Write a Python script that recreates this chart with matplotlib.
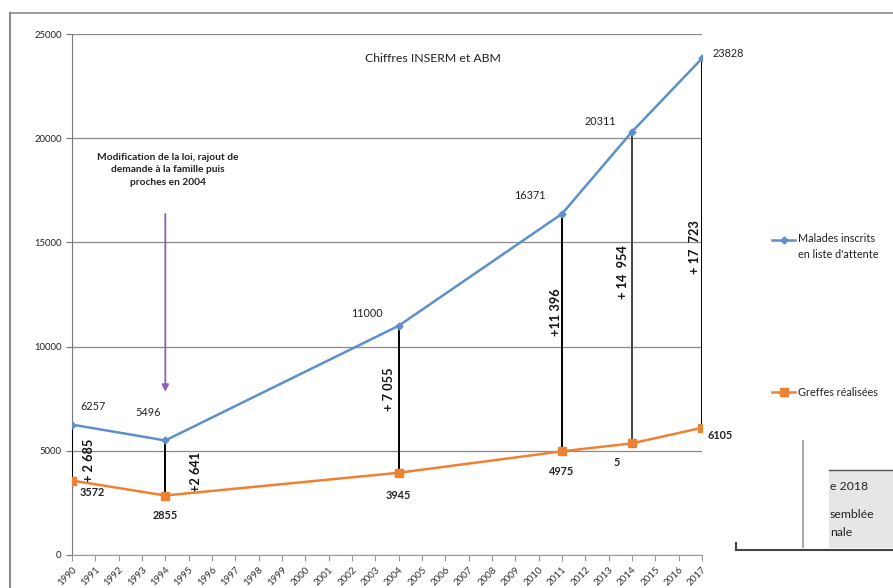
import matplotlib
matplotlib.use("Agg")
import matplotlib.pyplot as plt
from matplotlib.lines import Line2D
from matplotlib.patches import Rectangle

plt.rcParams['font.family'] = ['Lato', 'DejaVu Sans']

# data
years = list(range(1990, 2018))
point_years = [1990, 1994, 2004, 2011, 2014, 2017]
inscrits = [6257, 5496, 11000, 16371, 20311, 23828]
greffes = [3572, 2855, 3945, 4975, 5357, 6105]
inscrits_labels = ["6257", "5496", "11000", "16371", "20311", "23828"]
greffes_labels = ["3572", "2855", "3945", "4975", "5", "6105"]
ecart_labels = ["+ 2 685", "+2 641", "+ 7 055", "+11 396", "+ 14  954", "+ 17  723"]

BLUE = "#5d8fcb"
ORANGE = "#ee8132"

fig = plt.figure(figsize=(8.93, 5.88), dpi=100)
ax = fig.add_axes([72/893, 1-555/588, 630/893, 521/588])

ax.plot(point_years, inscrits, color=BLUE, lw=1.8, marker="D", ms=3.5, zorder=4)
ax.plot(point_years, greffes, color=ORANGE, lw=1.8, marker="s", ms=6, zorder=4)

# vertical gaps between the two series
for yr, lo, hi in zip(point_years, greffes, inscrits):
    col = "#444444" if yr == 2014 else "black"
    ax.vlines(yr, lo, hi, color=col, lw=1.4, zorder=3)

ax.set_xlim(1990, 2017)
ax.set_ylim(0, 25000)
ax.set_yticks(range(0, 25001, 5000))
ax.set_xticks(years)
ax.set_xticklabels([str(y) for y in years], rotation=45, ha="right", rotation_mode="anchor",
                   fontsize=7, color="#333333")
ax.tick_params(axis="y", labelsize=6.8, labelcolor="#222222", length=4, color="#777777")
ax.tick_params(axis="x", length=4, color="#999999")
ax.grid(axis="y", color="#8a8a8a", lw=0.9)
ax.set_axisbelow(True)
for s in ["top", "right"]:
    ax.spines[s].set_visible(False)
ax.spines["left"].set_color("#777777")
ax.spines["bottom"].set_color("#999999")

# data labels
blue_off = [(21, 18), (-17, 28), (-32, 12), (-32, 18), (-32, 10), (26, 5)]
for yr, v, lab, off in zip(point_years, inscrits, inscrits_labels, blue_off):
    ax.annotate(lab, (yr, v), xytext=off, textcoords="offset pixels", ha="center",
                va="center", fontsize=7.8, color="#222222")

orange_off = [(20, -12), (0, -20), (0, -23), (0, -20), (-15, -19), (18, -8)]
for yr, v, lab, off in zip(point_years, greffes, greffes_labels, orange_off):
    ax.annotate(lab, (yr, v), xytext=off, textcoords="offset pixels", ha="center",
                va="center", fontsize=7.8, color="#222222", fontweight="bold")

ecart_off = [(17, 20), (31, 24), (-10, 84), (-6, 139), (-9, 171), (-7, 181)]
for yr, v, lab, off in zip(point_years, greffes, ecart_labels, ecart_off):
    ax.annotate(lab, (yr, v), xytext=off, textcoords="offset pixels", ha="center",
                va="center", fontsize=9.2, rotation=90, fontweight="bold", color="#111111")

# title and law change note
fig.text(433/893, 1-59/588, "Chiffres INSERM et ABM", ha="center", va="center",
         fontsize=8.8, color="#222222")
fig.text(168/893, 1-170/588,
         "Modification de la loi, rajout de\ndemande à la famille puis\nproches en 2004",
         ha="center", va="center", fontsize=7.3, fontweight="bold", color="#222222",
         linespacing=1.5)
ax.annotate("", xy=(1994, 7700), xytext=(1994, 16500),
            arrowprops=dict(arrowstyle="-|>", color="#8a5fb8", lw=1.3, mutation_scale=10))

# legend entries, placed like Excel's
for (y, col, mk, ms) in [(240, BLUE, "D", 3.5), (392, ORANGE, "s", 6)]:
    fig.add_artist(Line2D([772/893, 795/893], [1-y/588, 1-y/588], color=col, lw=1.8))
    fig.add_artist(Line2D([783.5/893], [1-y/588], color=col, marker=mk, ms=ms))
fig.text(798/893, 1-233/588, "Malades inscrits\nen liste d'attente", ha="left", va="top",
         fontsize=7.8, color="#222222", linespacing=1.5)
fig.text(798/893, 1-392/588, "Greffes réalisées", ha="left", va="center",
         fontsize=7.8, color="#222222")

# outer frame
fig.add_artist(Line2D([10/893, 10/893], [0, 1-13/588], color="#8c8c8c", lw=1.5))
fig.add_artist(Line2D([10/893, 1], [1-13/588, 1-13/588], color="#8c8c8c", lw=1.2))

# overlapping box at bottom right
fig.add_artist(Line2D([803/893, 803/893], [1-547/588, 1-441/588], color="#aaaaaa", lw=1.5))
fig.add_artist(Rectangle((829/893, 1-548/588), 64/893, 78/588, facecolor="#e6e6e6",
                         edgecolor="none", transform=fig.transFigure))
fig.add_artist(Line2D([829/893, 1], [1-470/588, 1-470/588], color="#555555", lw=1))
fig.add_artist(Line2D([736/893, 1], [1-550/588, 1-550/588], color="#444444", lw=1.5))
fig.add_artist(Line2D([736/893, 736/893], [1-550/588, 1-543/588], color="#444444", lw=1.5))
fig.text(830/893, 1-486/588, "e 2018", ha="left", va="center", fontsize=8.8, color="#222222")
fig.text(830/893, 1-514/588, "semblée", ha="left", va="center", fontsize=8.8, color="#222222")
fig.text(830/893, 1-532/588, "nale", ha="left", va="center", fontsize=8.8, color="#222222")

fig.savefig("out.png", dpi=100)
